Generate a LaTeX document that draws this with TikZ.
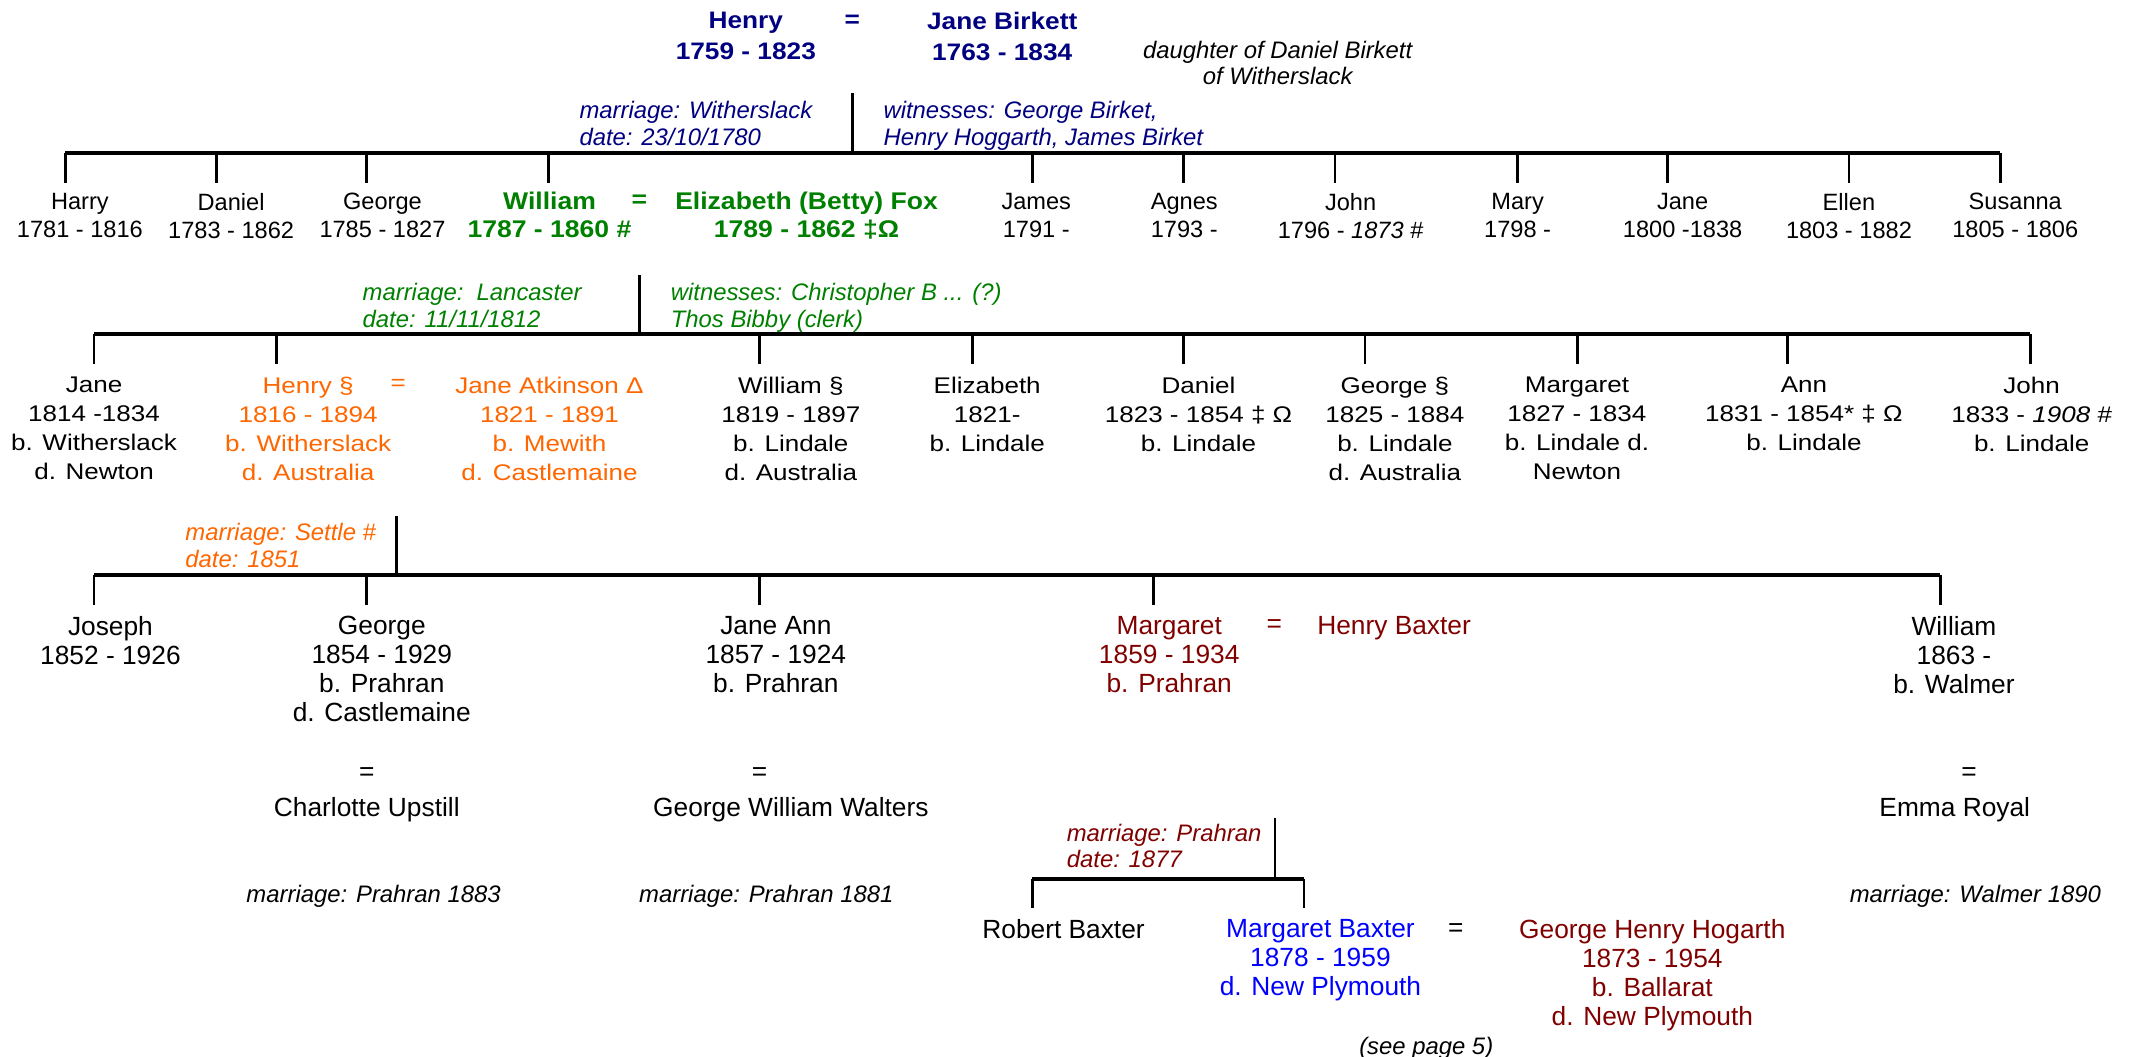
\documentclass[tikz,border=0pt]{standalone}
\usepackage{fontspec}
\setmainfont{Liberation Sans}
\newfontfamily\widefont{Liberation Sans}[FakeStretch=1.15]
\newfontfamily\boldwide{Liberation Sans}[FakeStretch=1.1]
\definecolor{navyc}{RGB}{0,0,128}
\definecolor{greenc}{RGB}{0,128,0}
\definecolor{orangec}{RGB}{255,102,0}
\definecolor{redc}{RGB}{128,0,0}
\definecolor{bluec}{RGB}{0,0,255}
\tikzset{
 ppl/.style={align=center, anchor=north, inner sep=0pt, outer sep=0pt, font=\fontsize{19.3}{21.3}\selectfont},
 pplw/.style={align=center, anchor=north, inner sep=0pt, outer sep=0pt, font=\widefont\fontsize{16.6}{21.3}\selectfont},
 ppls/.style={align=center, anchor=north, inner sep=0pt, outer sep=0pt, font=\fontsize{17.3}{20.7}\selectfont},
 pplb/.style={align=center, anchor=north, inner sep=0pt, outer sep=0pt, font=\boldwide\fontsize{17.7}{20.7}\selectfont\bfseries, text=greenc},
 topb/.style={align=center, anchor=north, inner sep=0pt, outer sep=0pt, font=\boldwide\fontsize{17.5}{23.2}\selectfont\bfseries, text=navyc},
 lab/.style={align=left, anchor=north west, inner sep=0pt, outer sep=0pt, font=\fontsize{17.5}{19.5}\selectfont\itshape},
 labc/.style={align=center, anchor=north, inner sep=0pt, outer sep=0pt, font=\fontsize{17.5}{19.5}\selectfont\itshape},
 eqs/.style={anchor=center, inner sep=0pt, outer sep=0pt, font=\fontsize{19.3}{21}\selectfont},
 bar/.style={line width=2.9pt},
 drop/.style={line width=2pt},
}
\begin{document}
\begin{tikzpicture}[x=1pt,y=-1pt]
\useasboundingbox (0,0) rectangle (1568,775);

% ---------- generation 0 ----------
\node[topb] (henry) at (547,8.6) {Henry\\1759 - 1823};
\node[eqs, font=\boldwide\fontsize{17.5}{23}\selectfont\bfseries, text=navyc] (eq0) at (625,15.5) {=};
\node[topb] (janeb) at (735,8.6) {Jane Birkett\\1763 - 1834};
\node[labc] (daughter) at (937,30) {daughter of Daniel Birkett\\of Witherslack};
\node[lab, text=navyc] (mar0) at (425,74.4) {marriage: Witherslack\\date: 23/10/1780};
\node[lab, text=navyc] (wit0) at (648,74.4) {witnesses: George Birket,\\Henry Hoggarth, James Birket};
\coordinate (m0) at (625,68.5);
\coordinate (b1L) at (48,112);
\coordinate (b1R) at (1467,112);

% ---------- generation 1 ----------
\node[ppls] (harry) at (58.6,141.5) {Harry\\1781 - 1816};
\node[ppls] (daniel1) at (169.5,141.5) {Daniel\\1783 - 1862};
\node[ppls] (george1) at (280.5,141.5) {George\\1785 - 1827};
\node[pplb] (william1) at (403,141) {William\\1787 - 1860 \#};
\node[eqs, font=\boldwide\fontsize{17.7}{21}\selectfont\bfseries, text=greenc] (eq1) at (469,147.5) {=};
\node[pplb] (eliz1) at (591.5,141) {Elizabeth (Betty) Fox\\1789 - 1862 ‡Ω};
\node[ppls] (james) at (760,141.5) {James\\1791 - };
\node[ppls] (agnes) at (868.5,141.5) {Agnes\\1793 - };
\node[ppls] (john1) at (990.5,141.5) {John\\1796 - \textit{1873} \#};
\node[ppls] (mary) at (1113,141.5) {Mary\\1798 - };
\node[ppls] (jane1) at (1234,141.5) {Jane\\1800 -1838};
\node[ppls] (ellen) at (1356,141.5) {Ellen\\1803 - 1882};
\node[ppls] (susanna) at (1478,141.5) {Susanna\\1805 - 1806};

\foreach \i/\x in {1/48,2/159,3/269,4/402,5/757,6/868,7/979,8/1113,9/1223,10/1356,11/1467}
  \coordinate (d1-\i) at (\x,134);
\foreach \i in {1,...,11}
  \draw[drop] (d1-\i |- b1L) -- (d1-\i);
\draw[drop] (m0) -- (m0 |- b1L);
\draw[bar] (b1L) -- (b1R);

\node[lab, text=greenc] (mar1) at (266,207.7) {marriage:\ \ Lancaster\\date: 11/11/1812};
\node[lab, text=greenc] (wit1) at (492,207.7) {witnesses: Christopher B ... (?)\\Thos Bibby (clerk)};
\coordinate (m1) at (469,201.7);
\coordinate (b2L) at (69,245);
\coordinate (b2R) at (1489,245);

% ---------- generation 2 ----------
\node[pplw] (jane2) at (69,276.3) {Jane\\1814 -1834\\b. Witherslack\\d. Newton};
\node[pplw, text=orangec] (henry2) at (226,276.3) {Henry §\\1816 - 1894\\b. Witherslack\\d. Australia};
\node[eqs, font=\widefont\fontsize{16.6}{21}\selectfont, text=orangec] (eq2) at (292,282) {=};
\node[pplw, text=orangec] (atkinson) at (403,276.3) {Jane Atkinson Δ\\1821 - 1891\\b. Mewith\\d. Castlemaine};
\node[pplw] (william2) at (580,276.3) {William §\\1819 - 1897\\b. Lindale\\d. Australia};
\node[pplw] (eliz2) at (724,276.3) {Elizabeth\\1821-\\b. Lindale};
\node[pplw] (daniel2) at (879,276.3) {Daniel\\1823 - 1854 ‡ Ω\\b. Lindale};
\node[pplw] (george2) at (1023,276.3) {George §\\1825 - 1884\\b. Lindale\\d. Australia};
\node[pplw] (margaret2) at (1156.5,276.3) {Margaret\\1827 - 1834\\b. Lindale d.\\Newton};
\node[pplw] (ann) at (1323,276.3) {Ann\\1831 - 1854* ‡ Ω\\b. Lindale};
\node[pplw] (john2) at (1490,276.3) {John\\1833 - \textit{1908} \#\\b. Lindale};

\foreach \i/\x in {1/69,2/203,3/557,4/713,5/868,6/1001,7/1157,8/1311,9/1489}
  \coordinate (d2-\i) at (\x,267);
\foreach \i in {1,...,9}
  \draw[drop] (d2-\i |- b2L) -- (d2-\i);
\draw[drop] (m1) -- (m1 |- b2L);
\draw[bar] (b2L) -- (b2R);

\node[lab, text=orangec] (mar2) at (136,383.7) {marriage: Settle \#\\date: 1851};
\coordinate (m2) at (291,378.5);
\coordinate (b3L) at (69,421.7);
\coordinate (b3R) at (1423,421.7);

% ---------- generation 3 ----------
\node[ppl] (joseph) at (81,452) {Joseph\\1852 - 1926};
\node[ppl] (george3) at (280,452) {George\\1854 - 1929\\b. Prahran\\d. Castlemaine};
\node[ppl] (janeann) at (569,452) {Jane Ann\\1857 - 1924\\b. Prahran};
\node[ppl, text=redc] (margaret3) at (857.5,452) {Margaret\\1859 - 1934\\b. Prahran};
\node[eqs, text=redc] (eq3) at (934.6,459) {=};
\node[ppl, text=redc] (hbaxter) at (1022.4,452) {Henry Baxter};
\node[ppl] (william3) at (1433,452) {William\\1863 - \\b. Walmer};

\node[eqs] (eq4) at (269,568) {=};
\node[ppl] (charlotte) at (269,584.7) {Charlotte Upstill};
\node[eqs] (eq5) at (557,568) {=};
\node[ppl] (gww) at (580,584.7) {George William Walters};
\node[eqs] (eq6) at (1444,568) {=};
\node[ppl] (emma) at (1433.6,584.7) {Emma Royal};

\node[labc] (mp1883) at (274,649.4) {marriage: Prahran 1883};
\node[labc] (mp1881) at (562,649.4) {marriage: Prahran 1881};
\node[labc] (mw1890) at (1448.7,649.4) {marriage: Walmer 1890};

\foreach \i/\x in {1/69,2/269,3/557,4/846,5/1423}
  \coordinate (d3-\i) at (\x,444);
\foreach \i in {1,...,5}
  \draw[drop] (d3-\i |- b3L) -- (d3-\i);
\draw[drop] (m2) -- (m2 |- b3L);
\draw[bar] (b3L) -- (b3R);

% ---------- generation 4 ----------
\node[lab, text=redc] (mar4) at (782.4,604.4) {marriage: Prahran\\date: 1877};
\coordinate (m4) at (935,600);
\coordinate (b4L) at (757,645);
\coordinate (b4R) at (956.3,645);

\node[ppl] (robert) at (780,674) {Robert Baxter};
\node[ppl, text=bluec] (mbaxter) at (968.4,674) {Margaret Baxter\\1878 - 1959\\d. New Plymouth};
\node[eqs] (eq7) at (1067.7,682) {=};
\node[ppl, text=redc] (ghh) at (1211.8,674) {George Henry Hogarth\\1873 - 1954\\b. Ballarat\\d. New Plymouth};
\node[labc] (seepage) at (1046,760.7) {(see page 5)};

\foreach \i/\x in {1/757,2/956.3}
  \coordinate (d4-\i) at (\x,666);
\foreach \i in {1,2}
  \draw[drop] (d4-\i |- b4L) -- (d4-\i);
\draw[drop] (m4) -- (m4 |- b4L);
\draw[bar] (b4L) -- (b4R);
\end{tikzpicture}
\end{document}
